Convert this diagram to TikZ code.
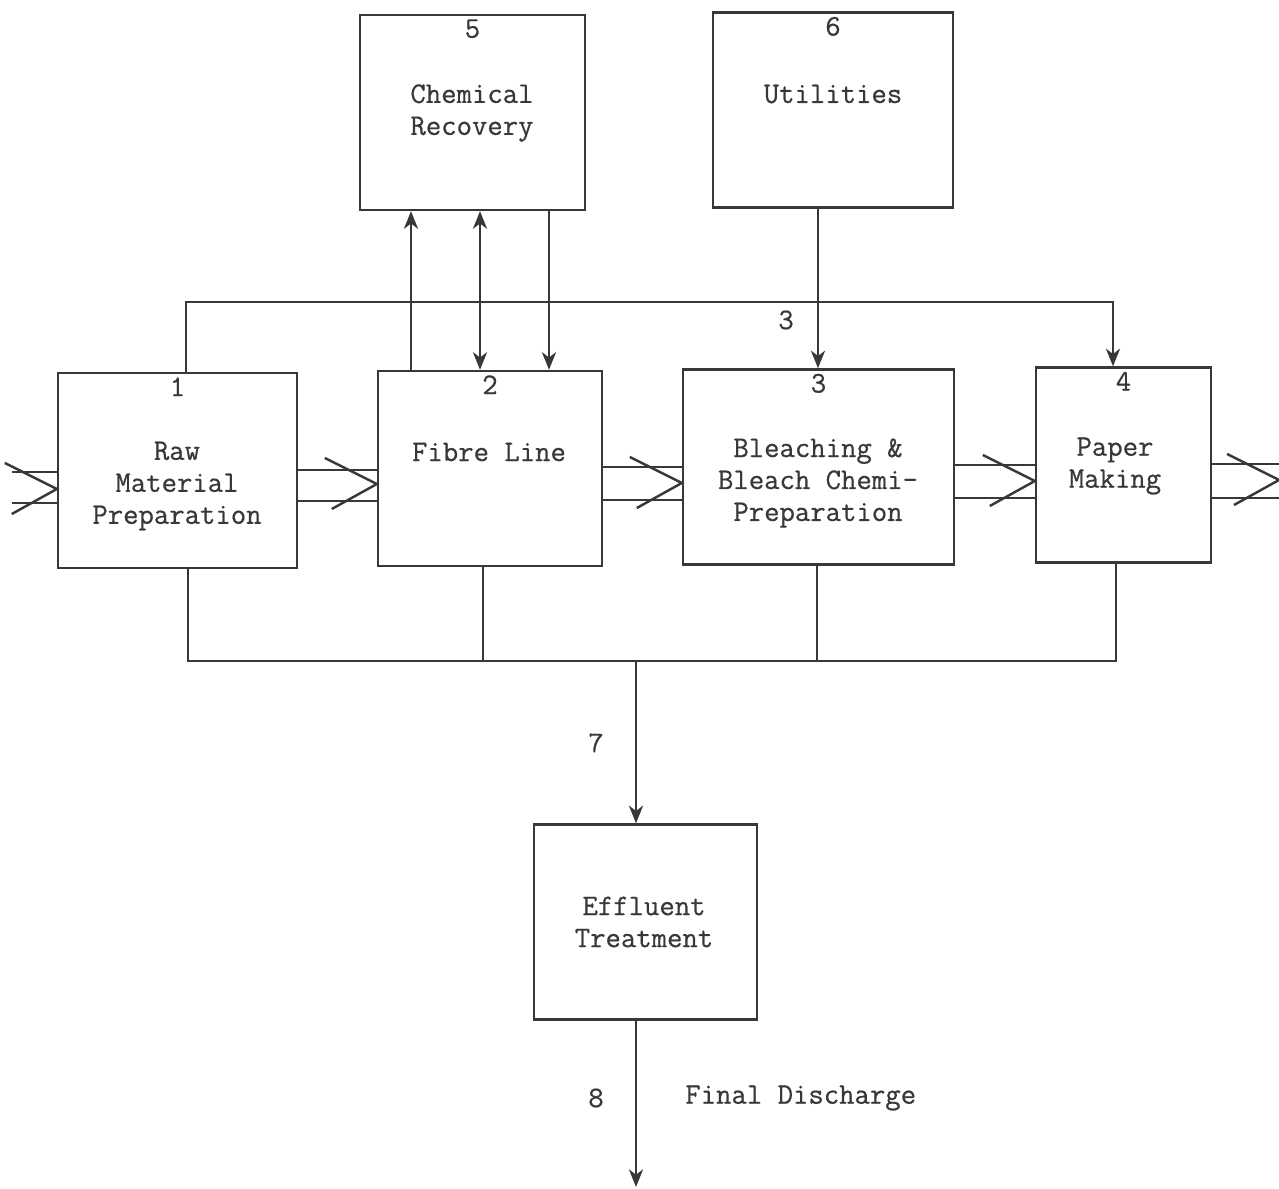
\documentclass[tikz,border=0pt]{standalone}
\usepackage{fontspec}
\setmainfont{Latin Modern Mono}[FakeBold=0.6]
\usepackage{xcolor}
\usetikzlibrary{arrows.meta}
\definecolor{ink}{HTML}{383838}

\tikzset{
  unit/.style={draw=ink, line width=1.4pt, minimum height=3.9cm},
  num/.style={anchor=north, inner sep=3pt, text=ink},
  txt/.style={align=center, text=ink, inner sep=0pt},
  arr/.style={draw=ink, line width=1.4pt, -{Stealth[length=10pt,width=8pt,inset=3pt]}},
  pipe/.style={draw=ink, line width=1.4pt}
}

\begin{document}
\begin{tikzpicture}[x=0.02cm, y=-0.02cm, font=\fontsize{17}{18.2}\selectfont]
		\useasboundingbox (0,0) rectangle (1279,1189);
		% process units
		\node[unit, minimum width=4.78cm, label={[num]north:1}] (raw) at (177.5,470.5) {};
		\node[unit, minimum width=4.48cm, label={[num]north:2}] (fibre) at (490,468.5) {};
		\node[unit, minimum width=5.42cm, label={[num]north:3}] (bleach) at (818.5,467) {};
		\node[unit, minimum width=3.5cm, label={[num]north:4}] (paper) at (1123.5,465) {};
		\node[unit, minimum width=4.5cm, label={[num]north:5}] (recovery) at (472.5,112.5) {};
		\node[unit, minimum width=4.8cm, label={[num]north:6}] (utilities) at (833,110) {};
		\node[unit, minimum width=4.46cm] (effluent) at (645.5,922) {};
		% texts
		\node[txt] at (177,486) {Raw\\Material\\Preparation};
		\node[txt] at (489,452) {Fibre Line};
		\node[txt] at (818,483) {Bleaching \&\\Bleach Chemi-\\Preparation};
		\node[txt] at (1115,466) {Paper\\Making};
		\node[txt] at (472,113) {Chemical\\Recovery};
		\node[txt] at (833,94) {Utilities};
		\node[txt] at (644,922) {Effluent\\Treatment};
		% main pulp stream
		\coordinate (in) at (12,488);
		\coordinate (out) at (1279,481);
		\foreach \a/\b/\ya/\yb/\yt in {in/raw/472/503/489, raw/fibre/470/501/484, fibre/bleach/467/500/483, bleach/paper/465/498/481, paper/out/464/498/480} {
			\draw[pipe] (\a.east |- 0,\ya) -- (\b.west |- 0,\ya) (\a.east |- 0,\yb) -- (\b.west |- 0,\yb);
			\draw[pipe] (\b.west |- 0,\yt) ++(-52,-26) -- (\b.west |- 0,\yt) -- ++(-45,25);
		}
		% chemical recovery and utilities
		\draw[arr] (fibre.north -| 411,0) -- (recovery.south -| 411,0);
		\draw[arr, {Stealth[length=10pt,width=8pt,inset=3pt]}-{Stealth[length=10pt,width=8pt,inset=3pt]}] (recovery.south -| 480,0) -- (fibre.north -| 480,0);
		\draw[arr] (recovery.south -| 549,0) -- (fibre.north -| 549,0);
		\draw[arr] (utilities.south -| 818,0) -- (bleach.north -| 818,0);
		\draw[arr] (raw.north -| 186,0) |- (1113,302) -- (paper.north -| 1113,0);
		\node[txt] at (786,320) {3};
		% effluent collection
		\draw[pipe] (raw.south -| 188,0) |- (1116,661) -- (paper.south -| 1116,0);
		\draw[pipe] (fibre.south -| 483,0) -- (483,661);
		\draw[pipe] (bleach.south -| 817,0) -- (817,661);
		\coordinate (collect) at (636,661);
		\draw[arr] (collect) -- (effluent.north -| collect);
		\node[txt] at (596,743) {7};
		\coordinate (discharge) at (636,1187);
		\draw[arr] (effluent.south -| discharge) -- (discharge);
		\node[txt] at (596,1098) {8};
		\node[txt, anchor=west] at (685,1098) {Final Discharge};
	\end{tikzpicture}
\end{document}
